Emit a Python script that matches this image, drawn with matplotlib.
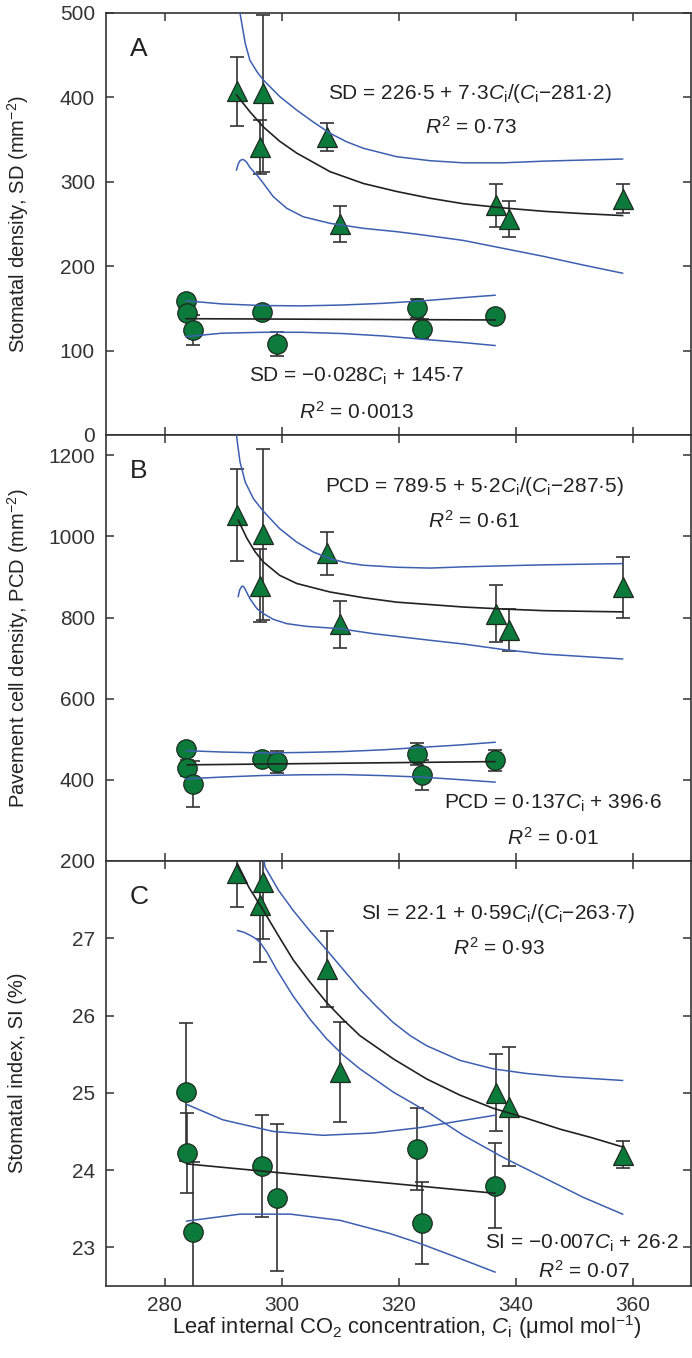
import matplotlib
matplotlib.use('Agg')
import matplotlib.pyplot as plt

plt.rcParams['font.family'] = ['Liberation Sans', 'DejaVu Sans']
plt.rcParams['mathtext.fontset'] = 'custom'
plt.rcParams['mathtext.rm'] = 'Liberation Sans'
plt.rcParams['mathtext.it'] = 'Liberation Sans:italic'
plt.rcParams['mathtext.bf'] = 'Liberation Sans:bold'

# ---------------- data ----------------
ci_tri = [292.4, 296.9, 296.4, 307.8, 310.0, 336.6, 338.9, 358.4]
ci_circ = [283.6, 283.9, 284.8, 296.7, 299.3, 323.2, 324.1, 336.5]

# Panel A: stomatal density
sd_tri = [407, 405, 341, 353, 250, 272, 256, 280]
sd_tri_err = [41, 93, 32, 17, 21, 25, 21, 17]
sd_circ = [159, 144, 124.5, 145.5, 108, 150, 126, 140.5]
sd_circ_err = [5, 5, 18, 6, 14, 11, 11, 5]

sd_fit_tri_x = [292.3, 294.6, 296.9, 299.7, 302.6, 308.3, 314.0, 319.7, 325.4, 331.1, 338.0, 344.9, 351.0, 358.3]
sd_fit_tri_y = [403, 383, 365, 348, 334, 312, 298, 288.5, 280.5, 274, 269, 265, 262.5, 260]
sd_up_tri_x = [292.75, 292.9, 293.8, 294.6, 295.8, 296.9, 299.7, 302.6, 305.4, 308.3, 311.1, 314.0, 319.7, 325.4, 331.1, 338.0, 344.9, 358.3]
sd_up_tri_y = [530, 500, 464, 444, 430.5, 420.6, 401, 385, 371, 357.5, 347.5, 339.7, 329.7, 325, 322.5, 322.5, 324.5, 327]
sd_lo_tri_x = [292.3, 292.6, 292.9, 293.3, 293.7, 294.1, 294.5, 294.9, 295.8, 296.9, 298.6, 300.9, 303.7, 308.3, 314.0, 319.7, 324.2, 331.1, 338.0, 344.9, 351.5, 358.3]
sd_lo_tri_y = [314, 321, 325, 326.5, 325.5, 322.6, 318, 314.7, 308, 298.2, 282.3, 268.6, 258.6, 250.8, 244.9, 240.9, 237, 230.5, 221, 211.5, 201.5, 191.7]
sd_fit_circ_x = [283.7, 336.5]
sd_fit_circ_y = [137.8, 136.3]
sd_band_circ_x = [283.7, 289.8, 296.7, 303.5, 310.4, 317.3, 324.2, 331.1, 336.5]
sd_up_circ_y = [159, 155.3, 153.4, 153, 154, 156, 159, 162.8, 165.6]
sd_lo_circ_y = [116.6, 120.6, 121.7, 121.7, 120.2, 117.4, 113.4, 109.5, 106]

# Panel B: pavement cell density
pcd_tri = [1053, 1005, 878, 958, 784, 810, 770, 875]
pcd_tri_err = [114, 210, 90, 53, 58, 70, 52, 75]
pcd_circ = [476, 429, 390, 452, 445, 464, 411, 448]
pcd_circ_err = [14, 20, 56, 16, 27, 27, 37, 25]

pcd_fit_tri_x = [292.6, 294.1, 295.5, 296.9, 299.7, 302.6, 308.3, 314.0, 319.7, 325.4, 331.1, 338.0, 344.9, 358.3]
pcd_fit_tri_y = [1040, 995, 962, 937, 904, 884, 863, 849, 838, 832, 826, 821, 817, 814]
pcd_up_tri_x = [292.1, 292.3, 292.9, 293.8, 295.2, 296.9, 299.7, 302.6, 305.4, 308.3, 311.1, 314.0, 319.7, 325.4, 331.1, 338.0, 344.9, 358.3]
pcd_up_tri_y = [1290, 1250, 1184, 1134, 1093, 1062, 1019, 986, 962, 945, 935, 929, 924, 922, 925, 927.6, 930, 933]
pcd_lo_tri_x = [292.6, 292.85, 293.2, 293.5, 293.8, 294.2, 294.6, 295.8, 296.9, 298.6, 300.9, 304.3, 310.0, 315.7, 325.4, 331.1, 338.0, 344.9, 358.3]
pcd_lo_tri_y = [852, 868, 877, 877, 869.5, 858, 846.6, 822, 809.6, 795.6, 785, 778.3, 772.6, 760.3, 744, 734.8, 721, 710, 698]
pcd_fit_circ_x = [283.9, 336.5]
pcd_fit_circ_y = [437, 445]
pcd_band_circ_x = [283.7, 290.0, 296.7, 303.5, 310.4, 317.3, 324.2, 330.5, 336.5]
pcd_up_circ_y = [472, 468.5, 466.4, 467.5, 469.7, 474, 480.4, 486, 492.7]
pcd_lo_circ_y = [402.5, 407, 410.7, 412.5, 413, 410.5, 406.6, 400.5, 394.4]

# Panel C: stomatal index
si_tri = [27.85, 27.73, 27.43, 26.6, 25.27, 25.0, 24.82, 24.2]
si_tri_err = [0.44, 0.74, 0.74, 0.49, 0.65, 0.5, 0.77, 0.17]
si_circ = [25.01, 24.22, 23.2, 24.05, 23.64, 24.27, 23.32, 23.8]
si_circ_err = [0.89, 0.52, 0.9, 0.66, 0.95, 0.53, 0.53, 0.55]

si_fit_tri_x = [292.4, 294.5, 296.9, 299.5, 302.0, 304.8, 307.7, 310.5, 313.4, 319.1, 324.8, 330.5, 336.2, 341.9, 347.6, 353.0, 358.3]
si_fit_tri_y = [27.95, 27.65, 27.36, 27.03, 26.72, 26.44, 26.17, 25.95, 25.74, 25.44, 25.18, 24.97, 24.8, 24.67, 24.53, 24.42, 24.30]
si_up_tri_x = [296.9, 297.2, 299.5, 302.0, 304.8, 307.7, 310.5, 313.4, 316.2, 319.1, 322.0, 324.8, 330.5, 336.2, 341.9, 347.6, 358.3]
si_up_tri_y = [28.05, 27.92, 27.62, 27.36, 27.1, 26.85, 26.6, 26.34, 26.12, 25.91, 25.74, 25.61, 25.42, 25.31, 25.25, 25.21, 25.16]
si_lo_tri_x = [292.5, 293.5, 294.6, 295.5, 296.3, 297.5, 299.2, 302.0, 304.9, 307.7, 310.5, 313.4, 319.1, 324.8, 331.1, 338.0, 344.9, 351.5, 358.3]
si_lo_tri_y = [27.1, 27.08, 27.04, 27.0, 26.95, 26.82, 26.59, 26.25, 25.95, 25.70, 25.49, 25.31, 25.01, 24.76, 24.45, 24.16, 23.9, 23.65, 23.43]
si_fit_circ_x = [283.8, 336.5]
si_fit_circ_y = [24.08, 23.7]
si_up_circ_x = [283.8, 290.0, 298.6, 307.1, 315.7, 323.7, 330.0, 336.5]
si_up_circ_y = [24.85, 24.65, 24.5, 24.45, 24.48, 24.55, 24.63, 24.71]
si_lo_circ_x = [283.8, 292.9, 301.5, 310.0, 318.5, 323.7, 330.0, 336.5]
si_lo_circ_y = [23.34, 23.43, 23.43, 23.35, 23.18, 23.05, 22.87, 22.68]

x_ticks = [280, 300, 320, 340, 360]

# ---------------- style ----------------
GREEN = '#0b7a3b'
EDGE = '#1c2a1f'
BLUE = '#3d5fb0'
BLACK = '#222222'
GREY = '#333333'
FS = 15

fig = plt.figure(figsize=(6.92, 13.58), dpi=100)
L, W = 106 / 692, 585 / 692
H = 1358
axA = fig.add_axes([L, 1 - 435 / H, W, 422 / H])
axB = fig.add_axes([L, 1 - 861 / H, W, 426 / H])
axC = fig.add_axes([L, 1 - 1286 / H, W, 425 / H])


def panel(ax, ty, te, cy, ce, lines):
    ax.errorbar(ci_tri, ty, yerr=te, fmt='none', ecolor=GREY, elinewidth=1.2,
                capsize=5, capthick=1.2, zorder=2)
    ax.errorbar(ci_circ, cy, yerr=ce, fmt='none', ecolor=GREY, elinewidth=1.2,
                capsize=5, capthick=1.2, zorder=2)
    ax.plot(ci_tri, ty, linestyle='none', marker='^', ms=15, mfc=GREEN,
            mec=EDGE, mew=0.9, zorder=3)
    ax.plot(ci_circ, cy, linestyle='none', marker='o', ms=14, mfc=GREEN,
            mec=EDGE, mew=0.9, zorder=3)
    for (x, y, c) in lines:
        ax.plot(x, y, color=c, lw=1.2 if c == BLACK else 1.1, zorder=4,
                solid_joinstyle='round')
    ax.set_xlim(270, 370)
    ax.set_xticks(x_ticks)
    ax.tick_params(direction='in', length=6, width=1.1, top=True, right=True,
                   labelsize=FS, colors=GREY, pad=8)
    for s in ax.spines.values():
        s.set_color(GREY)
        s.set_linewidth(1.2)


panel(axA, sd_tri, sd_tri_err, sd_circ, sd_circ_err, [
    (sd_fit_tri_x, sd_fit_tri_y, BLACK),
    (sd_up_tri_x, sd_up_tri_y, BLUE),
    (sd_lo_tri_x, sd_lo_tri_y, BLUE),
    (sd_fit_circ_x, sd_fit_circ_y, BLACK),
    (sd_band_circ_x, sd_up_circ_y, BLUE),
    (sd_band_circ_x, sd_lo_circ_y, BLUE),
])
axA.set_ylim(0, 500)
axA.set_yticks([0, 100, 200, 300, 400, 500])
axA.tick_params(labelbottom=False)

panel(axB, pcd_tri, pcd_tri_err, pcd_circ, pcd_circ_err, [
    (pcd_fit_tri_x, pcd_fit_tri_y, BLACK),
    (pcd_up_tri_x, pcd_up_tri_y, BLUE),
    (pcd_lo_tri_x, pcd_lo_tri_y, BLUE),
    (pcd_fit_circ_x, pcd_fit_circ_y, BLACK),
    (pcd_band_circ_x, pcd_up_circ_y, BLUE),
    (pcd_band_circ_x, pcd_lo_circ_y, BLUE),
])
axB.set_ylim(200, 1250)
axB.set_yticks([200, 400, 600, 800, 1000, 1200])
axB.tick_params(labelbottom=False)

panel(axC, si_tri, si_tri_err, si_circ, si_circ_err, [
    (si_fit_tri_x, si_fit_tri_y, BLACK),
    (si_up_tri_x, si_up_tri_y, BLUE),
    (si_lo_tri_x, si_lo_tri_y, BLUE),
    (si_fit_circ_x, si_fit_circ_y, BLACK),
    (si_up_circ_x, si_up_circ_y, BLUE),
    (si_lo_circ_x, si_lo_circ_y, BLUE),
])
axC.set_ylim(22.5, 28)
axC.set_yticks([23, 24, 25, 26, 27])
axC.tick_params(axis='x', pad=7)

# panel letters
for ax, lab in [(axA, 'A'), (axB, 'B'), (axC, 'C')]:
    ax.text(0.041, 0.915, lab, transform=ax.transAxes, fontsize=19,
            ha='left', va='center', color=BLACK)

CI = r'$C_{\rm i}$'
TXT = dict(ha='center', va='center', fontsize=FS, color=BLACK, zorder=6)
axA.text(332.2, 405, 'SD = 226·5 + 7·3' + CI + '/(' + CI + '−281·2)', **TXT)
axA.text(332.4, 365, r'$R^2$ = 0·73', **TXT)
axA.text(312.9, 69, 'SD = −0·028' + CI + ' + 145·7', **TXT)
axA.text(312.8, 27.6, r'$R^2$ = 0·0013', **TXT)

axB.text(333.0, 1124, 'PCD = 789·5 + 5·2' + CI + '/(' + CI + '−287·5)', **TXT)
axB.text(332.9, 1038, r'$R^2$ = 0·61', **TXT)
axB.text(346.4, 343, 'PCD = 0·137' + CI + ' + 396·6', **TXT)
axB.text(346.4, 257, r'$R^2$ = 0·01', **TXT)

axC.text(337.0, 27.32, 'SI = 22·1 + 0·59' + CI + '/(' + CI + '−263·7)', **TXT)
axC.text(337.1, 26.88, r'$R^2$ = 0·93', **TXT)
axC.text(351.4, 23.05, 'SI = −0·007' + CI + ' + 26·2', **TXT)
axC.text(351.6, 22.70, r'$R^2$ = 0·07', **TXT)

# axis labels
fig.text(18 / 692, 1 - 224 / H, r'Stomatal density, SD (mm$^{-2}$)', rotation=90,
         ha='center', va='center', fontsize=14.5, color=BLACK)
fig.text(18 / 692, 1 - 648 / H, r'Pavement cell density, PCD (mm$^{-2}$)', rotation=90,
         ha='center', va='center', fontsize=14.5, color=BLACK)
fig.text(18 / 692, 1 - 1073 / H, 'Stomatal index, SI (%)', rotation=90,
         ha='center', va='center', fontsize=14.5, color=BLACK)
fig.text(407 / 692, 1 - 1327 / H,
         r'Leaf internal CO$_2$ concentration, ' + CI + r' ($\mathrm{\mu}$mol mol$^{-1}$)',
         ha='center', va='center', fontsize=15.8, color=BLACK)

fig.savefig('out.png', dpi=100)
